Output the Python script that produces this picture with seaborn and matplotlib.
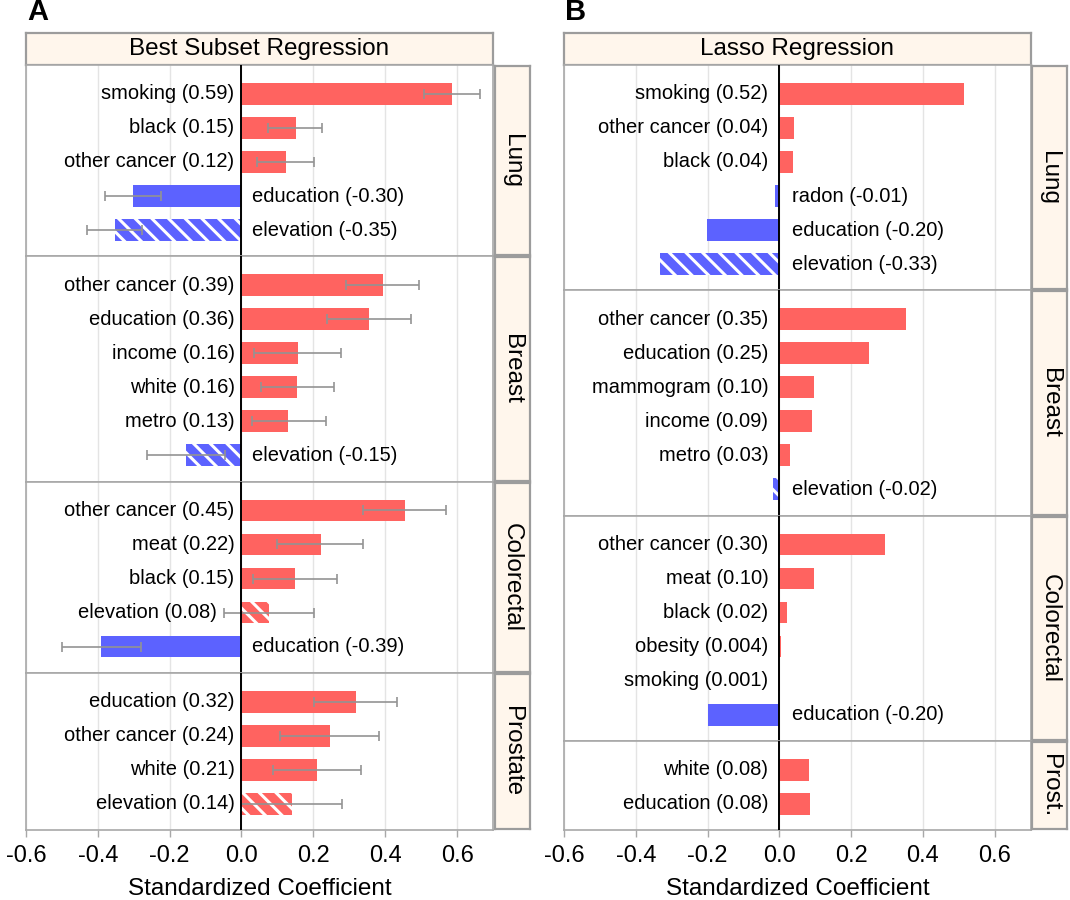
import numpy as np
import pandas as pd
import seaborn as sns
import matplotlib.pyplot as plt

# ---- panel A: best subset regression (coefficient and interval) ----
facets_a = ["Lung", "Breast", "Colorectal", "Prostate"]

lung_a_labels = ["smoking (0.59)", "black (0.15)", "other cancer (0.12)",
                 "education (-0.30)", "elevation (-0.35)"]
lung_a_coef = [0.585, 0.151, 0.124, -0.303, -0.353]
lung_a_lo = [0.507, 0.074, 0.042, -0.379, -0.429]
lung_a_hi = [0.663, 0.224, 0.202, -0.225, -0.277]

breast_a_labels = ["other cancer (0.39)", "education (0.36)", "income (0.16)",
                   "white (0.16)", "metro (0.13)", "elevation (-0.15)"]
breast_a_coef = [0.394, 0.355, 0.156, 0.154, 0.130, -0.155]
breast_a_lo = [0.290, 0.238, 0.034, 0.053, 0.028, -0.264]
breast_a_hi = [0.493, 0.473, 0.277, 0.257, 0.234, -0.047]

colo_a_labels = ["other cancer (0.45)", "meat (0.22)", "black (0.15)",
                 "elevation (0.08)", "education (-0.39)"]
colo_a_coef = [0.454, 0.220, 0.148, 0.076, -0.390]
colo_a_lo = [0.337, 0.100, 0.031, -0.049, -0.499]
colo_a_hi = [0.570, 0.338, 0.265, 0.203, -0.279]

pros_a_labels = ["education (0.32)", "other cancer (0.24)", "white (0.21)",
                 "elevation (0.14)"]
pros_a_coef = [0.318, 0.245, 0.209, 0.140]
pros_a_lo = [0.202, 0.107, 0.087, 0.000]
pros_a_hi = [0.433, 0.382, 0.332, 0.281]

# ---- panel B: lasso regression ----
facets_b = ["Lung", "Breast", "Colorectal", "Prost."]

lung_b_labels = ["smoking (0.52)", "other cancer (0.04)", "black (0.04)",
                 "radon (-0.01)", "education (-0.20)", "elevation (-0.33)"]
lung_b_coef = [0.515, 0.040, 0.038, -0.012, -0.203, -0.332]

breast_b_labels = ["other cancer (0.35)", "education (0.25)", "mammogram (0.10)",
                   "income (0.09)", "metro (0.03)", "elevation (-0.02)"]
breast_b_coef = [0.352, 0.250, 0.097, 0.092, 0.029, -0.018]

colo_b_labels = ["other cancer (0.30)", "meat (0.10)", "black (0.02)",
                 "obesity (0.004)", "smoking (0.001)", "education (-0.20)"]
colo_b_coef = [0.295, 0.097, 0.021, 0.004, 0.001, -0.200]

pros_b_labels = ["white (0.08)", "education (0.08)"]
pros_b_coef = [0.083, 0.084]

xticks = [-0.6, -0.4, -0.2, 0.0, 0.2, 0.4, 0.6]
xtick_labels = ["-0.6", "-0.4", "-0.2", "0.0", "0.2", "0.4", "0.6"]


def make_df(facets, labels, coefs, los=None, his=None):
    rows = []
    for k, f in enumerate(facets):
        for j, lab in enumerate(labels[k]):
            c = coefs[k][j]
            lo = los[k][j] if los else np.nan
            hi = his[k][j] if his else np.nan
            rows.append(dict(facet=f, label=lab, coef=c, lo=lo, hi=hi,
                             hatched=lab.startswith("elevation")))
    return pd.DataFrame(rows)


df_a = make_df(facets_a,
               [lung_a_labels, breast_a_labels, colo_a_labels, pros_a_labels],
               [lung_a_coef, breast_a_coef, colo_a_coef, pros_a_coef],
               [lung_a_lo, breast_a_lo, colo_a_lo, pros_a_lo],
               [lung_a_hi, breast_a_hi, colo_a_hi, pros_a_hi])
df_b = make_df(facets_b,
               [lung_b_labels, breast_b_labels, colo_b_labels, pros_b_labels],
               [lung_b_coef, breast_b_coef, colo_b_coef, pros_b_coef])

sns.set_style("white")
plt.rcParams["font.family"] = ["Liberation Sans", "DejaVu Sans"]
plt.rcParams["axes.unicode_minus"] = False
plt.rcParams["hatch.linewidth"] = 2.2
plt.rcParams["text.color"] = "black"
plt.rcParams["axes.labelcolor"] = "black"
plt.rcParams["xtick.labelcolor"] = "black"

RED = "#FF6360"
BLUE = "#5C62FF"
STRIP = "#FFF6EC"
FRAME = "#A8A8A8"
SFRAME = "#9C9C9C"

W, H = 1070, 900
fig = plt.figure(figsize=(W / 100, H / 100), dpi=100)


def fx(px):
    return px / W


def fy(px):
    return 1 - px / H


def draw_panel(df, facets, title, letter, x0, x1, offs, show_err):
    top, bottom = 65, 830
    ratios = [len(df[df.facet == f]) + 0.62 for f in facets]
    unit = (bottom - top) / sum(ratios)
    ytop = top
    # header strip
    hax = fig.add_axes([fx(x0), fy(top), fx(x1 - x0), (top - 32.5) / H])
    hax.set_facecolor(STRIP)
    hax.set_xticks([])
    hax.set_yticks([])
    for s in hax.spines.values():
        s.set_color(SFRAME)
        s.set_linewidth(1.6)
    hax.text(0.5, 0.5, title, ha="center", va="center", fontsize=17.5,
             transform=hax.transAxes)
    fig.text(fx(x0 + 1), fy(12), letter, fontsize=21, fontweight="bold",
             ha="left", va="center")

    for k, f in enumerate(facets):
        d = df[df.facet == f].reset_index(drop=True)
        n = len(d)
        h = ratios[k] * unit
        ax = fig.add_axes([fx(x0), fy(ytop + h), fx(x1 - x0), h / H])
        colors = [RED if c > 0 else BLUE for c in d.coef]
        sns.barplot(data=d, x="coef", y="label", hue="label", palette=colors,
                    orient="h", width=0.64, legend=False, errorbar=None,
                    saturation=1, linewidth=0, ax=ax)
        for p in ax.patches:
            j = int(round(p.get_y() + p.get_height() / 2))
            if d.hatched[j]:
                p.set_hatch("\\\\")
                p.set_edgecolor("white")
                p.set_linewidth(0)
        if show_err:
            ax.errorbar(d.coef, np.arange(n),
                        xerr=[d.coef - d.lo, d.hi - d.coef], fmt="none",
                        ecolor="#939393", elinewidth=1.2, capsize=3.6,
                        capthick=1.2, zorder=4)
        for j in range(n):
            c = d.coef[j]
            if c > 0:
                xa = min(0, d.lo[j]) if show_err else 0
                ax.annotate(d.label[j], xy=(xa, j), xytext=(-offs[0], 0),
                            textcoords="offset points", ha="right",
                            va="center", fontsize=14.5)
            else:
                xa = max(0, d.hi[j]) if show_err else 0
                ax.annotate(d.label[j], xy=(xa, j), xytext=(offs[1], 0),
                            textcoords="offset points", ha="left",
                            va="center", fontsize=14.5)
        ax.axvline(0, color="black", lw=1.4, zorder=5)
        ax.set_xlim(-0.6, 0.7)
        ax.set_ylim(n - 1 + 0.77, -0.85)
        ax.set_xticks(xticks)
        ax.grid(axis="x", color="#E4E4E4", lw=1)
        ax.set_axisbelow(True)
        ax.set_yticks([])
        ax.set_ylabel("")
        for s in ax.spines.values():
            s.set_color(FRAME)
            s.set_linewidth(1.2)
        if k == len(facets) - 1:
            ax.set_xticklabels(xtick_labels, fontsize=17)
            ax.tick_params(axis="x", length=5, width=1, color=FRAME, pad=6,
                           bottom=True)
            ax.set_xlabel("Standardized Coefficient", fontsize=17.5,
                          labelpad=8)
        else:
            ax.set_xticklabels([])
            ax.tick_params(axis="x", length=0)
            ax.set_xlabel("")

        # right strip
        sax = fig.add_axes([fx(x1 + 1.5), fy(ytop + h - 1), fx(35), (h - 2) / H])
        sax.set_facecolor(STRIP)
        sax.set_xticks([])
        sax.set_yticks([])
        for s in sax.spines.values():
            s.set_color(SFRAME)
            s.set_linewidth(1.6)
        sax.text(0.5, 0.5, f, rotation=270, ha="center", va="center",
                 fontsize=17.5, transform=sax.transAxes)
        ytop += h


draw_panel(df_a, facets_a, "Best Subset Regression", "A", 25.9, 493.0,
           (5, 7.5), True)
draw_panel(df_b, facets_b, "Lasso Regression", "B", 564.3, 1030.5,
           (8, 9), False)

fig.savefig("out.png", dpi=100)
